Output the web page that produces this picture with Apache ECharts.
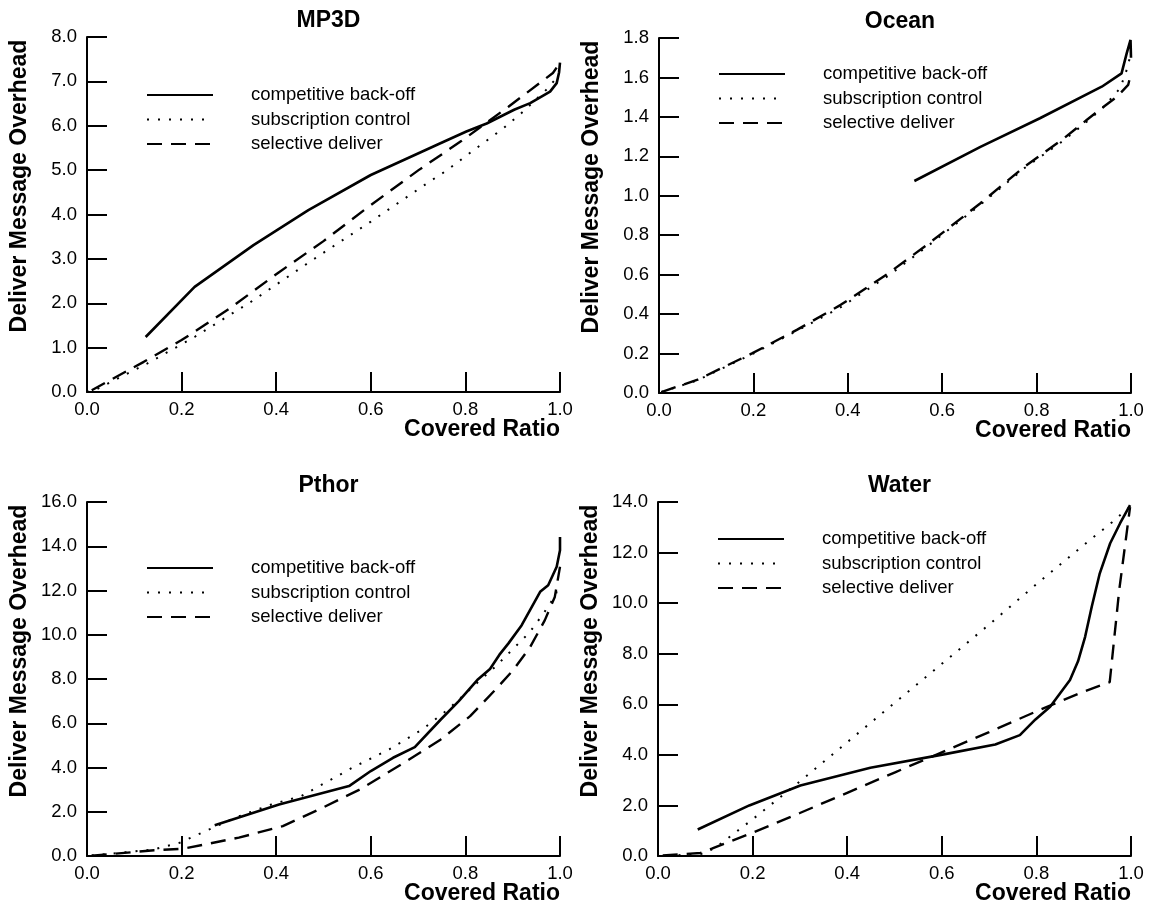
<!DOCTYPE html>
<html>
<head>
<meta charset="utf-8">
<script src="https://cdn.jsdelivr.net/npm/echarts@6/dist/echarts.min.js"></script>
<style>
html,body{margin:0;padding:0;background:#fff;}
#chart{width:1153px;height:913px;}
</style>
</head>
<body>
<div id="chart"></div>
<script>
// ---------- data ----------
const panelTitles = ['MP3D', 'Ocean', 'Pthor', 'Water'];
const seriesNames = ['competitive back-off', 'subscription control', 'selective deliver'];
const xTicks = [0, 1, 0.2];           // min, max, interval
const yMaxes = [8, 1.8, 16, 14];
const yIntervals = [1, 0.2, 2, 2];

const mp3dCompetitive = [[0.124,1.24],[0.2275,2.37],[0.352,3.31],[0.468,4.10],[0.600,4.89],[0.709,5.42],[0.746,5.60],[0.802,5.87],[0.845,6.05],[0.903,6.36],[0.937,6.51],[0.979,6.77],[0.993,6.96],[0.998,7.2],[1.0,7.42]];
const mp3dSubscription = [[0.0,0.0],[0.018,0.05],[0.127,0.64],[0.2275,1.24],[0.352,2.07],[0.476,2.97],[0.6,3.84],[0.724,4.74],[0.76,4.99],[0.82,5.47],[0.88,5.94],[0.919,6.29],[0.972,6.82],[0.989,7.03]];
const mp3dSelective = [[0.01,0.04],[0.12,0.68],[0.2,1.17],[0.2275,1.36],[0.3,1.87],[0.406,2.7],[0.5,3.4],[0.592,4.15],[0.701,5.00],[0.792,5.66],[0.891,6.43],[0.958,6.97],[0.985,7.19],[1.0,7.42]];

const oceanCompetitive = [[0.541,1.075],[0.681,1.248],[0.807,1.393],[0.938,1.553],[0.980,1.621],[0.991,1.723],[0.999,1.79],[1.0,1.70]];
const oceanSubscription = [[0.005,0.005],[0.082,0.065],[0.198,0.198],[0.292,0.315],[0.385,0.435],[0.486,0.595],[0.572,0.75],[0.681,0.955],[0.774,1.14],[0.857,1.28],[0.906,1.375],[0.938,1.44],[0.977,1.545],[0.992,1.646],[0.998,1.705]];
const oceanSelective = [[0.005,0.005],[0.082,0.0675],[0.198,0.202],[0.292,0.32],[0.385,0.447],[0.486,0.607],[0.572,0.759],[0.681,0.962],[0.774,1.147],[0.857,1.29],[0.906,1.384],[0.938,1.444],[0.97,1.502],[0.994,1.562],[1.0,1.62]];

const pthorCompetitive = [[0.270,1.385],[0.406,2.33],[0.554,3.16],[0.600,3.84],[0.647,4.44],[0.693,4.92],[0.748,6.17],[0.786,7.0],[0.825,7.95],[0.852,8.45],[0.872,9.1],[0.891,9.61],[0.919,10.43],[0.958,11.94],[0.975,12.24],[0.993,13.07],[1.0,13.82],[1.0,14.42]];
const pthorSubscription = [[0.01,0.02],[0.072,0.15],[0.142,0.30],[0.196,0.60],[0.251,1.13],[0.313,1.73],[0.390,2.33],[0.453,2.71],[0.561,3.99],[0.639,4.82],[0.709,5.72],[0.763,6.62],[0.825,7.83],[0.863,8.55],[0.898,9.30],[0.935,10.09],[0.965,10.96],[0.979,11.41],[0.992,11.86],[0.996,12.34]];
const pthorSelective = [[0.01,0.01],[0.142,0.26],[0.204,0.33],[0.251,0.53],[0.321,0.83],[0.414,1.35],[0.491,2.11],[0.577,3.01],[0.670,4.21],[0.748,5.27],[0.810,6.32],[0.864,7.53],[0.901,8.40],[0.937,9.45],[0.968,10.66],[0.989,11.71],[1.0,13.07]];

const waterCompetitive = [[0.084,1.05],[0.193,2.0],[0.301,2.79],[0.449,3.49],[0.604,4.02],[0.713,4.41],[0.765,4.78],[0.798,5.4],[0.829,5.90],[0.871,6.96],[0.888,7.7],[0.903,8.67],[0.917,9.86],[0.934,11.18],[0.956,12.37],[0.977,13.16],[0.998,13.88]];
const waterSubscription = [[0.02,0.02],[0.07,0.05],[0.10,0.10],[0.13,0.45],[0.2,1.45],[0.3,2.95],[0.4,4.5],[0.5,6.05],[0.6,7.6],[0.7,9.15],[0.8,10.75],[0.9,12.3],[0.96,13.2],[1.0,13.85]];
const waterSelective = [[0.01,0.02],[0.09,0.12],[0.115,0.3],[0.2,0.92],[0.3,1.7],[0.4,2.5],[0.5,3.3],[0.6,4.1],[0.7,4.9],[0.8,5.72],[0.9,6.5],[0.955,6.88],[0.975,10.5],[0.998,13.8]];

const panelData = [
  [mp3dCompetitive, mp3dSubscription, mp3dSelective],
  [oceanCompetitive, oceanSubscription, oceanSelective],
  [pthorCompetitive, pthorSubscription, pthorSelective],
  [waterCompetitive, waterSubscription, waterSelective]
];

// ---------- layout / style ----------
const FONT = '"Liberation Sans", Arial, Helvetica, sans-serif';
const grids = [
  {left: 87, top: 37, width: 473, height: 355},
  {left: 659, top: 38, width: 472, height: 355},
  {left: 87, top: 502, width: 473, height: 354},
  {left: 658, top: 502, width: 473, height: 354}
];
const lineStyles = [
  {type: 'solid', width: 2.6},
  {type: [2, 9], width: 2},
  {type: [15, 9], width: 2.4}
];

const chart = echarts.init(document.getElementById('chart'), null, {renderer: 'canvas'});

const option = {
  animation: false,
  backgroundColor: '#fff',
  textStyle: {fontFamily: FONT, color: '#000'},
  title: [], grid: [], xAxis: [], yAxis: [], legend: [], series: [], graphic: []
};

grids.forEach((g, i) => {
  option.grid.push({left: g.left, top: g.top, width: g.width, height: g.height, containLabel: false});
  option.title.push({
    text: panelTitles[i], left: g.left + g.width / 2, top: g.top - 33, textAlign: 'center',
    textStyle: {fontFamily: FONT, fontWeight: 'bold', fontSize: 23, color: '#000'}
  });
  const axisCommon = {
    axisLine: {show: true, onZero: false, lineStyle: {color: '#000', width: 2}},
    axisTick: {show: true, inside: true, length: 20, lineStyle: {color: '#000', width: 2}},
    splitLine: {show: false},
    axisLabel: {color: '#000', fontSize: 18.5, fontFamily: FONT, formatter: v => v.toFixed(1)}
  };
  option.xAxis.push(Object.assign({}, axisCommon, {
    type: 'value', gridIndex: i, min: xTicks[0], max: xTicks[1], interval: xTicks[2],
    axisLabel: Object.assign({}, axisCommon.axisLabel, {margin: 8})
  }));
  option.yAxis.push(Object.assign({}, axisCommon, {
    type: 'value', gridIndex: i, min: 0, max: yMaxes[i], interval: yIntervals[i],
    axisLabel: Object.assign({}, axisCommon.axisLabel, {margin: 10})
  }));
  seriesNames.forEach((name, s) => {
    option.series.push({
      type: 'line', name: name, xAxisIndex: i, yAxisIndex: i,
      data: panelData[i][s], symbol: 'none', showSymbol: false, smooth: false,
      lineStyle: Object.assign({color: '#000'}, lineStyles[s]),
      itemStyle: {color: '#000'}, z: 3 - s
    });
  });
  const rowTop = [85, 64, 558, 529][i];
  option.legend.push({
    data: seriesNames, orient: 'vertical', left: g.left + 59, top: rowTop,
    itemWidth: 66, itemHeight: 14, itemGap: 4.5, padding: 0, selectedMode: false,
    itemStyle: {opacity: 0},
    textStyle: {fontFamily: FONT, fontSize: 18.5, color: '#000', lineHeight: 20, padding: [0, 0, 0, 33]}
  });
  // axis names
  option.graphic.push({
    type: 'text', x: g.left + g.width, y: g.top + g.height + 38,
    style: {text: 'Covered Ratio', textAlign: 'right', textVerticalAlign: 'middle',
      font: 'bold 23px ' + FONT, fill: '#000'}
  });
  option.graphic.push({
    type: 'text', x: g.left - 67, y: g.top + 149, rotation: Math.PI / 2,
    style: {text: 'Deliver Message Overhead', textAlign: 'center', textVerticalAlign: 'middle',
      font: 'bold 23px ' + FONT, fill: '#000'}
  });
});

chart.setOption(option);
</script>
</body>
</html>
